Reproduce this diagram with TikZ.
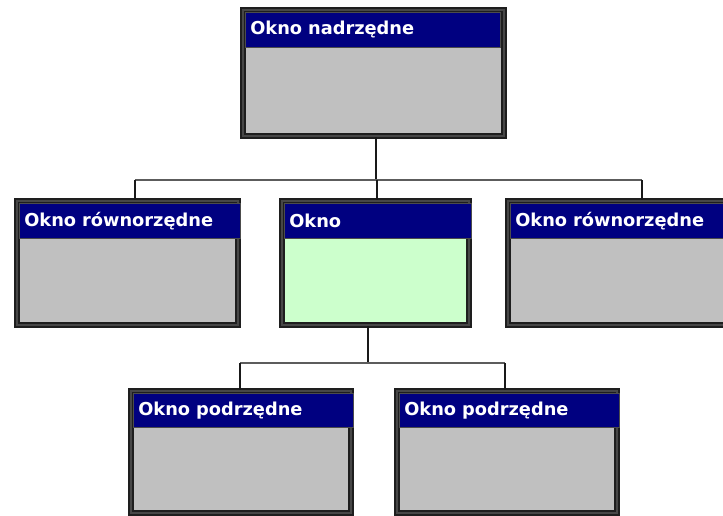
\documentclass[tikz,border=0pt]{standalone}
\usepackage{fontspec}
\newfontfamily\winfont{DejaVu Sans}
\definecolor{navybar}{HTML}{000080}
\definecolor{boxgray}{HTML}{C0C0C0}
\definecolor{boxgreen}{HTML}{CCFFCC}
\definecolor{frameout}{HTML}{1E1E1E}
\definecolor{framein}{HTML}{474747}
\definecolor{linegray}{HTML}{5C5C5C}
\begin{document}
\begin{tikzpicture}[x=1pt,y=-1pt,
  winbox/.style={draw=frameout, line width=2pt, double=framein, double distance=2pt,
    inner sep=0pt, anchor=north west, rectangle},
  titlebar/.style={fill=navybar, draw=black!70, line width=0.6pt, text=white, anchor=north west,
    inner xsep=5pt, inner ysep=0pt, minimum height=35pt, align=left,
    font=\winfont\bfseries\fontsize{17.8}{20}\selectfont},
  vconn/.style={draw=black!90, line width=2pt},
  hconn/.style={draw=linegray, line width=2.6pt}]
\useasboundingbox (0,0) rectangle (723,515);
\clip (0,0) rectangle (723,515);
\fill[white] (0,0) rectangle (723,515);
% top box
\node[winbox, fill=boxgray, minimum width=261pt, minimum height=126pt] (top) at (242,9) {};
\node[titlebar, text width=245pt] (topt) at (245,12) {Okno nadrzędne};
% middle row
\node[winbox, fill=boxgray, minimum width=221pt, minimum height=124pt] (left) at (16,200) {};
\node[titlebar, text width=211pt] (leftt) at (19,203) {Okno równorzędne};
\node[winbox, fill=boxgreen, minimum width=187pt, minimum height=124pt] (mid) at (281,200) {};
\node[titlebar, text width=177pt] (midt) at (284,203) {Okno};
\node[winbox, fill=boxgray, minimum width=225pt, minimum height=124pt] (right) at (507,200) {};
\node[titlebar, text width=215pt] (rightt) at (510,203) {Okno równorzędne};
% bottom row
\node[winbox, fill=boxgray, minimum width=220pt, minimum height=122pt] (bl) at (130,390) {};
\node[titlebar, text width=210pt, minimum height=34pt] (blt) at (133,393) {Okno podrzędne};
\node[winbox, fill=boxgray, minimum width=220pt, minimum height=122pt] (br) at (396,390) {};
\node[titlebar, text width=210pt, minimum height=34pt] (brt) at (399,393) {Okno podrzędne};
% connectors top -> middle row
\coordinate (j0) at (376,180);
\coordinate (jl) at (135,180);
\coordinate (jr) at (642,180);
\coordinate (jm) at (377,180);
\draw[vconn] (top.south -| j0) -- (j0);
\draw[hconn] (jl) -- (jr);
\draw[vconn] (jl) -- (jl |- left.north);
\draw[vconn] (jr) -- (jr |- right.north);
\draw[vconn] (jm) -- (jm |- mid.north);
% connectors middle -> bottom row
\coordinate (k0) at (368,363);
\coordinate (kl) at (240,363);
\coordinate (kr) at (505,363);
\draw[vconn] (mid.south -| k0) -- (k0);
\draw[hconn] (kl) -- (kr);
\draw[vconn] (kl) -- (kl |- bl.north);
\draw[vconn] (kr) -- (kr |- br.north);
\end{tikzpicture}
\end{document}
